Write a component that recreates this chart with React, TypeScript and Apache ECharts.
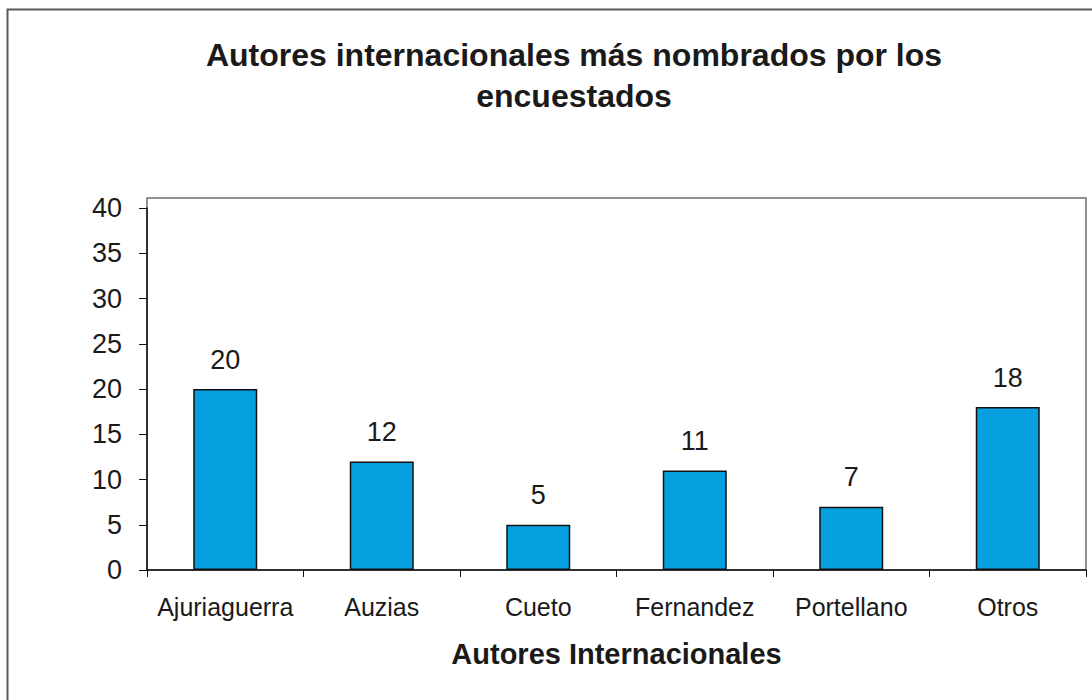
import React, { useEffect, useRef } from "react";
import * as echarts from "echarts";

const categories = ["Ajuriaguerra", "Auzias", "Cueto", "Fernandez", "Portellano", "Otros"];
const values = [20, 12, 5, 11, 7, 18];
const titleText = "Autores internacionales más nombrados por los\nencuestados";
const xAxisName = "Autores Internacionales";

const FONT = "'Liberation Sans', Arial, sans-serif";

export default function App() {
  const ref = useRef<HTMLDivElement>(null);
  useEffect(() => {
    if (!ref.current) return;
    const chart = echarts.init(ref.current, null, { renderer: "svg" });
    chart.setOption({
      animation: false,
      backgroundColor: "#ffffff",
      title: {
        text: titleText,
        left: 569,
        top: 29,
        textAlign: "center",
        textStyle: {
          fontFamily: FONT,
          fontSize: 32,
          fontWeight: "bold",
          color: "#1a1a1a",
          lineHeight: 41,
        },
      },
      graphic: [
        {
          type: "rect",
          z: -1,
          shape: { x: 7.5, y: 9.5, width: 1200, height: 800 },
          style: { fill: "none", stroke: "#5a5a5a", lineWidth: 2 },
        },
        {
          type: "rect",
          z: -1,
          shape: { x: 147, y: 198, width: 939, height: 372 },
          style: { fill: "none", stroke: "#6e6e6e", lineWidth: 1.5 },
        },
      ],
      grid: { left: 147, right: 6, top: 208, bottom: 130, containLabel: false },
      xAxis: {
        type: "category",
        data: categories,
        boundaryGap: true,
        axisLine: { show: true, lineStyle: { color: "#111", width: 1.5 } },
        axisTick: { show: true, alignWithLabel: false, length: 7, lineStyle: { color: "#111" } },
        axisLabel: { fontFamily: FONT, fontSize: 25, color: "#1a1a1a", margin: 24, interval: 0 },
        name: xAxisName,
        nameLocation: "middle",
        nameGap: 69,
        nameTextStyle: { fontFamily: FONT, fontSize: 29, fontWeight: "bold", color: "#1a1a1a" },
        splitLine: { show: false },
      },
      yAxis: {
        type: "value",
        min: 0,
        max: 40,
        interval: 5,
        axisLine: { show: true, lineStyle: { color: "#111", width: 1.5 } },
        axisTick: { show: true, length: 8, lineStyle: { color: "#111" } },
        axisLabel: { fontFamily: FONT, fontSize: 27, color: "#1a1a1a", margin: 25 },
        splitLine: { show: false },
      },
      series: [
        {
          type: "bar",
          data: values,
          barWidth: 64,
          itemStyle: { color: "#06a0e0", borderColor: "#111", borderWidth: 1.5 },
          label: {
            show: true,
            position: "top",
            distance: 16,
            fontFamily: FONT,
            fontSize: 27,
            color: "#1a1a1a",
          },
        },
      ],
    });
    return () => chart.dispose();
  }, []);
  return (
    <div
      ref={ref}
      style={{ position: "fixed", left: 0, top: 0, width: 1092, height: 700 }}
    />
  );
}
